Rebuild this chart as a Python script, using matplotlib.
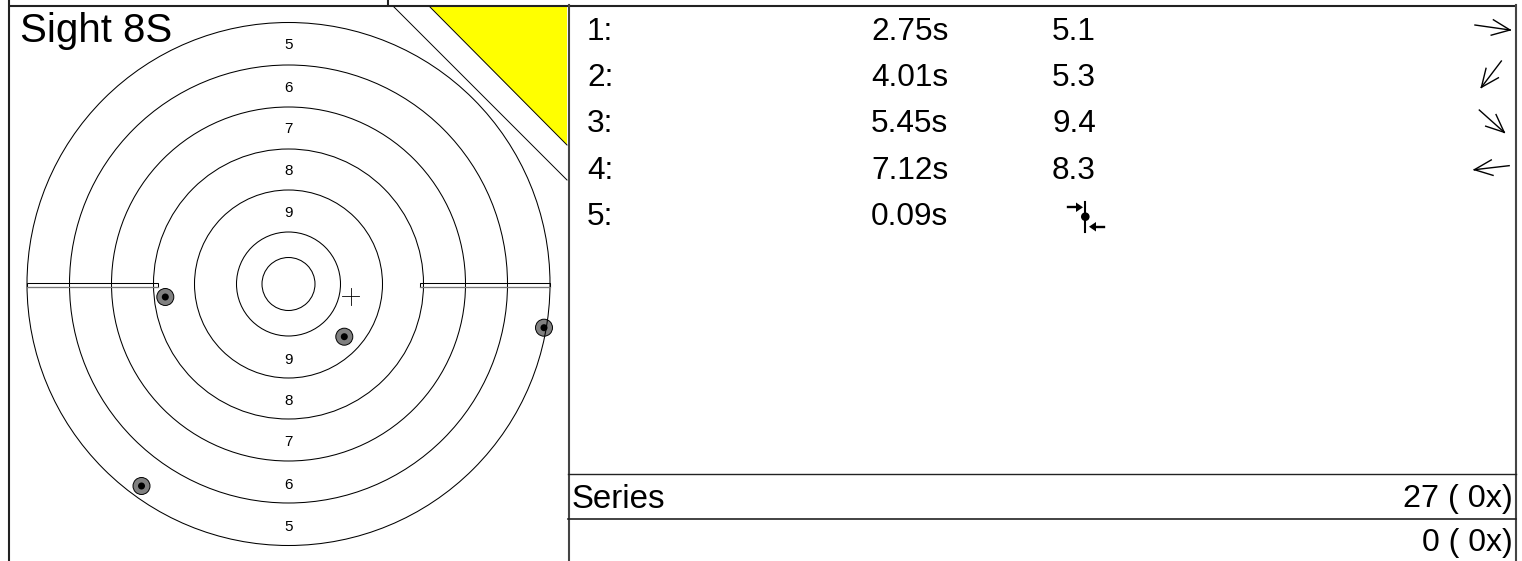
import numpy as np
import matplotlib.pyplot as plt
from matplotlib.patches import Circle, Polygon, Rectangle

plt.rcParams['font.family'] = ['Liberation Sans', 'DejaVu Sans']

# target, offsets in pixels from the centre
ring_radii = [261.5, 219, 177, 135, 94, 52, 26.5]
top_labels = ["5", "6", "7", "8", "9"]
top_label_dy = [-239, -196, -155, -113, -71]
bottom_labels = ["9", "8", "7", "6", "5"]
bottom_label_dy = [76, 117, 158, 201, 243]
shot_dx = [255.5, -147, 55.8, -123.2]
shot_dy = [43.7, 202, 52.7, 13]
mean_dx = 62.2
mean_dy = 12

# shot table
rows = ["1:", "2:", "3:", "4:", "5:"]
times = ["2.75s", "4.01s", "5.45s", "7.12s", "0.09s"]
scores = ["5.1", "5.3", "9.4", "8.3"]
arrow_angle = [-171.9, -52.8, -138.2, -6.6]  # tail direction seen from the tip
arrow_len = [35.4, 33, 33.4, 35]
arrow_tip_x = [1510, 1481.4, 1504.2, 1474.4]
arrow_tip_y = [30, 87.3, 132.3, 169.7]

series_label = "Series"
series_total = "27 ( 0x)"
other_total = "0 ( 0x)"

cx, cy = 288.5, 284
row_y = [32, 78, 124, 171, 217]

fig = plt.figure(figsize=(15.22, 5.61), dpi=100)
ax = fig.add_axes([0, 0, 1, 1])
ax.set_xlim(0, 1522)
ax.set_ylim(561, 0)
ax.axis("off")

# frame
frame = dict(color="#222222", lw=1.5, solid_capstyle="butt")
ax.plot([8.5, 8.5], [0, 561], **frame)
ax.plot([8, 1516], [5.5, 5.5], **frame)
ax.plot([387.5, 387.5], [0, 5], **frame)
ax.plot([568.5, 568.5], [5, 561], color="#444444", lw=1.5)
ax.plot([1516, 1516], [5, 561], color="#444444", lw=1.5)
ax.plot([568, 1516], [473.5, 473.5], color="#222222", lw=1)
ax.plot([568, 1516], [519, 519], color="#222222", lw=1.2)

# corner triangle
ax.add_patch(Polygon([[430, 7], [567, 7], [567, 145]], closed=True, fc="#ffff00", ec="none"))
ax.plot([430, 567], [7, 145], color="black", lw=0.7)
ax.plot([394, 567], [7, 180], color="black", lw=0.7)

# shots below the rings
for dx, dy in zip(shot_dx, shot_dy):
    ax.add_patch(Circle((cx + dx, cy + dy), 8.5, fc="#808080", ec="black", lw=0.7))
    ax.add_patch(Circle((cx + dx, cy + dy), 3.5, fc="black", ec="none"))

for r in ring_radii:
    ax.add_patch(Circle((cx, cy), r, fc="none", ec="black", lw=0.75))

for t, dy in zip(top_labels + bottom_labels, top_label_dy + bottom_label_dy):
    ax.text(cx, cy + dy, t, fontsize=11, ha="center", va="center")

# side bars
for x0, x1 in [(27, 158), (419.5, 550)]:
    ax.add_patch(Rectangle((x0, 282.5), x1 - x0, 4.5, fc="none", ec="black", lw=0.75))
    ax.plot([x0, x1], [287, 287], color="#777777", lw=0.9)

# mean point
ax.plot([cx + mean_dx - 8.5, cx + mean_dx + 8.5], [cy + mean_dy] * 2, color="black", lw=0.6)
ax.plot([cx + mean_dx] * 2, [cy + mean_dy - 8.5, cy + mean_dy + 8.5], color="black", lw=0.6)

ax.text(20, 31, "Sight 8S", fontsize=29, ha="left", va="center")

for i in range(len(rows)):
    ax.text(587, row_y[i], rows[i], fontsize=22.7, ha="left", va="center")
    ax.text(871, row_y[i], times[i], fontsize=22.7, ha="left", va="center")
for i in range(len(scores)):
    ax.text(1052, row_y[i], scores[i], fontsize=22.7, ha="left", va="center")

# direction arrows
for tx, ty, ang, ln in zip(arrow_tip_x, arrow_tip_y, arrow_angle, arrow_len):
    a = np.deg2rad(ang)
    ax.plot([tx, tx + ln * np.cos(a)], [ty, ty + ln * np.sin(a)], color="black", lw=1)
    for off in [-23.5, 23.5]:
        b = np.deg2rad(ang + off)
        ax.plot([tx, tx + 19.5 * np.cos(b)], [ty, ty + 19.5 * np.sin(b)], color="black", lw=1)

# on-target symbol on row 5
ax.plot([1085.3, 1085.3], [202, 231.5], color="black", lw=1.5)
ax.add_patch(Circle((1085.3, 216.7), 4.3, fc="black", ec="none"))
ax.plot([1067.5, 1078], [207.3, 207.3], color="black", lw=1.7)
ax.add_patch(Polygon([[1076, 202.5], [1083, 207.3], [1076, 212]], closed=True, fc="black", ec="none"))
ax.plot([1094, 1103.5], [226.7, 226.7], color="black", lw=1.7)
ax.add_patch(Polygon([[1096, 222], [1089, 226.7], [1096, 231.5]], closed=True, fc="black", ec="none"))

ax.text(572, 499, series_label, fontsize=23.8, ha="left", va="center")
ax.text(1513, 499, series_total, fontsize=23.4, ha="right", va="center")
ax.text(1513, 543, other_total, fontsize=23, ha="right", va="center")

fig.savefig("out.png", dpi=100)
